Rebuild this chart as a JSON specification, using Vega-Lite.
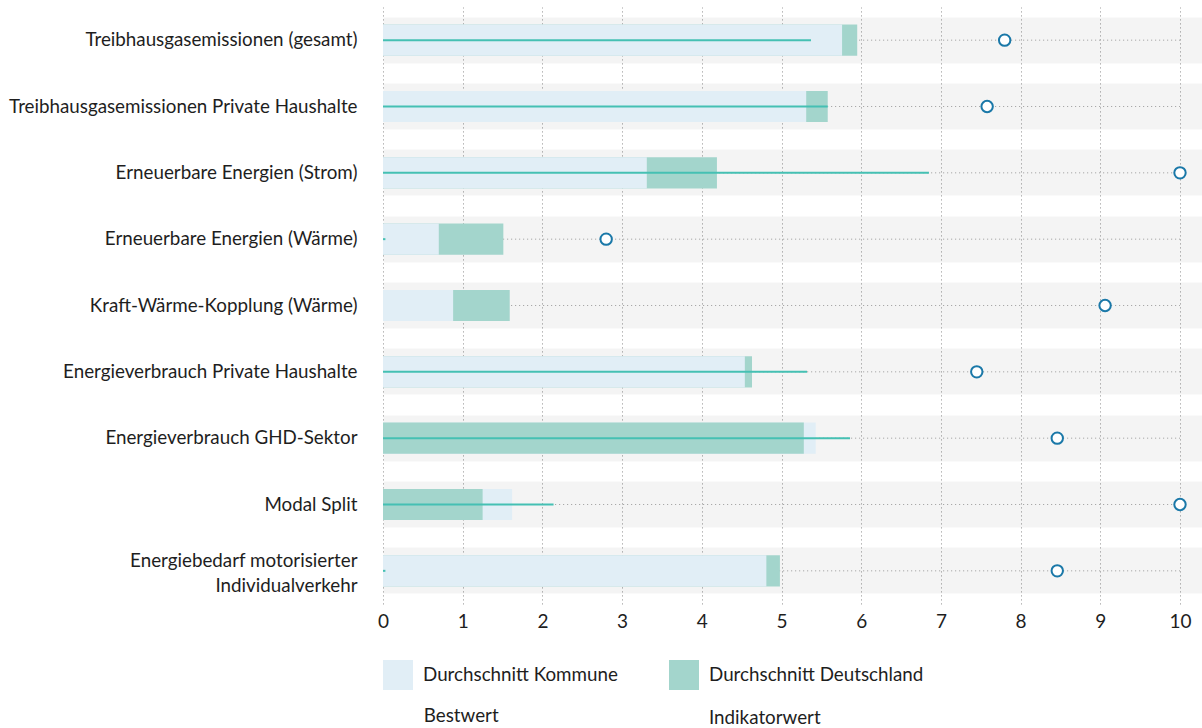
{
  "$schema": "https://vega.github.io/schema/vega-lite/v6.json",
  "autosize": {"type": "none"},
  "padding": {"left": 383, "top": 7, "right": 0, "bottom": 124},
  "width": 819,
  "height": 597,
  "background": "white",
  "config": {
    "font": "Lato",
    "view": {"stroke": null}
  },
  "datasets": {
    "bars": [
      {"cat": "Treibhausgasemissionen (gesamt)", "series": "Durchschnitt Deutschland", "value": 5.95},
      {"cat": "Treibhausgasemissionen (gesamt)", "series": "Durchschnitt Kommune", "value": 5.76},
      {"cat": "Treibhausgasemissionen Private Haushalte", "series": "Durchschnitt Deutschland", "value": 5.58},
      {"cat": "Treibhausgasemissionen Private Haushalte", "series": "Durchschnitt Kommune", "value": 5.31},
      {"cat": "Erneuerbare Energien (Strom)", "series": "Durchschnitt Deutschland", "value": 4.19},
      {"cat": "Erneuerbare Energien (Strom)", "series": "Durchschnitt Kommune", "value": 3.31},
      {"cat": "Erneuerbare Energien (Wärme)", "series": "Durchschnitt Deutschland", "value": 1.51},
      {"cat": "Erneuerbare Energien (Wärme)", "series": "Durchschnitt Kommune", "value": 0.70},
      {"cat": "Kraft-Wärme-Kopplung (Wärme)", "series": "Durchschnitt Deutschland", "value": 1.59},
      {"cat": "Kraft-Wärme-Kopplung (Wärme)", "series": "Durchschnitt Kommune", "value": 0.88},
      {"cat": "Energieverbrauch Private Haushalte", "series": "Durchschnitt Deutschland", "value": 4.63},
      {"cat": "Energieverbrauch Private Haushalte", "series": "Durchschnitt Kommune", "value": 4.54},
      {"cat": "Energieverbrauch GHD-Sektor", "series": "Durchschnitt Kommune", "value": 5.43},
      {"cat": "Energieverbrauch GHD-Sektor", "series": "Durchschnitt Deutschland", "value": 5.28},
      {"cat": "Modal Split", "series": "Durchschnitt Kommune", "value": 1.62},
      {"cat": "Modal Split", "series": "Durchschnitt Deutschland", "value": 1.25},
      {"cat": "Energiebedarf motorisierter Individualverkehr", "series": "Durchschnitt Deutschland", "value": 4.98},
      {"cat": "Energiebedarf motorisierter Individualverkehr", "series": "Durchschnitt Kommune", "value": 4.81},
      {"cat": "Treibhausgasemissionen (gesamt)", "series": "Indikatorwert", "value": 5.37},
      {"cat": "Treibhausgasemissionen Private Haushalte", "series": "Indikatorwert", "value": 5.58},
      {"cat": "Erneuerbare Energien (Strom)", "series": "Indikatorwert", "value": 6.85},
      {"cat": "Erneuerbare Energien (Wärme)", "series": "Indikatorwert", "value": 0.03},
      {"cat": "Kraft-Wärme-Kopplung (Wärme)", "series": "Indikatorwert", "value": 0},
      {"cat": "Energieverbrauch Private Haushalte", "series": "Indikatorwert", "value": 5.32},
      {"cat": "Energieverbrauch GHD-Sektor", "series": "Indikatorwert", "value": 5.86},
      {"cat": "Modal Split", "series": "Indikatorwert", "value": 2.14},
      {"cat": "Energiebedarf motorisierter Individualverkehr", "series": "Indikatorwert", "value": 0.03},
      {"cat": "Treibhausgasemissionen (gesamt)", "series": "Bestwert", "value": 7.80},
      {"cat": "Treibhausgasemissionen Private Haushalte", "series": "Bestwert", "value": 7.58},
      {"cat": "Erneuerbare Energien (Strom)", "series": "Bestwert", "value": 10},
      {"cat": "Erneuerbare Energien (Wärme)", "series": "Bestwert", "value": 2.80},
      {"cat": "Kraft-Wärme-Kopplung (Wärme)", "series": "Bestwert", "value": 9.06},
      {"cat": "Energieverbrauch Private Haushalte", "series": "Bestwert", "value": 7.45},
      {"cat": "Energieverbrauch GHD-Sektor", "series": "Bestwert", "value": 8.46},
      {"cat": "Modal Split", "series": "Bestwert", "value": 10},
      {"cat": "Energiebedarf motorisierter Individualverkehr", "series": "Bestwert", "value": 8.46}
    ]
  },
  "data": {"name": "bars"},
  "encoding": {
    "y": {
      "field": "cat",
      "type": "nominal",
      "sort": null,
      "scale": {"paddingInner": 0, "paddingOuter": 0},
      "axis": {
        "title": null,
        "domain": false,
        "ticks": false,
        "grid": true,
        "gridWidth": 46,
        "gridColor": "#000000",
        "gridOpacity": 0.045,
        "gridDash": [],
        "bandPosition": 0.5,
        "labelFont": "Lato",
        "labelFontSize": 18.8,
        "labelColor": "#1e1e1e",
        "labelPadding": 26,
        "labelLimit": 0,
        "labelLineHeight": 25,
        "labelOffset": {"condition": {"test": "datum.value === 'Energiebedarf motorisierter Individualverkehr'", "value": -10}, "value": 0},
        "labelExpr": "datum.value === 'Energiebedarf motorisierter Individualverkehr' ? ['Energiebedarf motorisierter', 'Individualverkehr'] : datum.label"
      }
    }
  },
  "layer": [
    {
      "transform": [{"filter": "datum.series === 'Bestwert'"}],
      "mark": {"type": "rule", "color": "#a8a8a8", "strokeDash": [1.2, 2.8], "strokeWidth": 1},
      "encoding": {
        "x": {"value": 0},
        "x2": {"value": {"expr": "scale('x', 10)"}}
      }
    },
    {
      "transform": [{"filter": "datum.series === 'Durchschnitt Kommune' || datum.series === 'Durchschnitt Deutschland'"}],
      "mark": {"type": "bar", "height": {"band": 0.47}, "opacity": 1},
      "encoding": {
        "x": {
          "field": "value",
          "type": "quantitative",
          "stack": null,
          "scale": {"domain": [0, 10.276], "nice": false, "zero": true},
          "axis": {
            "title": null,
            "values": [0, 1, 2, 3, 4, 5, 6, 7, 8, 9, 10],
            "format": "d",
            "domain": false,
            "ticks": false,
            "grid": true,
            "gridColor": "#a0a0a0",
            "gridDash": [1.2, 2.8],
            "gridWidth": 1,
            "labelFont": "Lato",
            "labelFontSize": 19,
            "labelColor": "#1e1e1e",
            "labelPadding": 8,
            "labelFlush": false
          }
        },
        "color": {
          "field": "series",
          "type": "nominal",
          "scale": {
            "domain": ["Durchschnitt Kommune", "Durchschnitt Deutschland"],
            "range": ["#e1eef6", "#a3d5cc"]
          },
          "legend": {
            "title": null,
            "orient": "none",
            "legendX": 0,
            "legendY": 653,
            "direction": "horizontal",
            "columnPadding": 51,
            "gridAlign": "each",
            "symbolSize": 900,
            "symbolType": "square",
            "symbolStrokeWidth": 0,
            "symbolOpacity": 1,
            "labelOffset": 10,
            "labelFont": "Lato",
            "labelFontSize": 18.8,
            "labelColor": "#1e1e1e",
            "labelLimit": 0
          }
        }
      }
    },
    {
      "transform": [{"filter": "datum.series === 'Indikatorwert'"}],
      "mark": {"type": "bar", "height": 2, "color": "#45c0b3"},
      "encoding": {
        "x": {"field": "value", "type": "quantitative", "stack": null},
        "opacity": {
          "field": "series",
          "type": "nominal",
          "scale": {"domain": ["Indikatorwert"], "range": [1]},
          "legend": {
            "title": null,
            "orient": "none",
            "legendX": 286,
            "legendY": 695,
            "symbolType": "stroke",
            "symbolSize": 900,
            "symbolStrokeColor": "#45c0b3",
            "symbolStrokeWidth": 2,
            "symbolOpacity": 1,
            "labelOffset": 8,
            "labelFont": "Lato",
            "labelFontSize": 18.8,
            "labelColor": "#1e1e1e",
            "labelLimit": 0,
            "encode": {
              "symbols": {
                "shape": {"value": "stroke"},
                "stroke": {"value": "#45c0b3"},
                "strokeWidth": {"value": 2},
                "opacity": {"value": 1}
              }
            }
          }
        }
      }
    },
    {
      "transform": [{"filter": "datum.series === 'Bestwert'"}],
      "mark": {"type": "point", "filled": false, "strokeWidth": 2, "size": 130, "opacity": 1, "fill": "white", "color": "#1a78a8"},
      "encoding": {
        "x": {"field": "value", "type": "quantitative"},
        "shape": {
          "field": "series",
          "type": "nominal",
          "scale": {"domain": ["Bestwert"], "range": ["circle"]},
          "legend": {
            "title": null,
            "orient": "none",
            "legendX": 9,
            "legendY": 700,
            "symbolSize": 130,
            "symbolStrokeColor": "#1a78a8",
            "symbolFillColor": "#ffffff",
            "symbolStrokeWidth": 2,
            "symbolOpacity": 1,
            "labelOffset": 13,
            "labelFont": "Lato",
            "labelFontSize": 18.8,
            "labelColor": "#1e1e1e",
            "labelLimit": 0,
            "encode": {
              "symbols": {
                "stroke": {"value": "#1a78a8"},
                "fill": {"value": "#ffffff"},
                "strokeWidth": {"value": 2},
                "opacity": {"value": 1}
              }
            }
          }
        }
      }
    }
  ]
}
